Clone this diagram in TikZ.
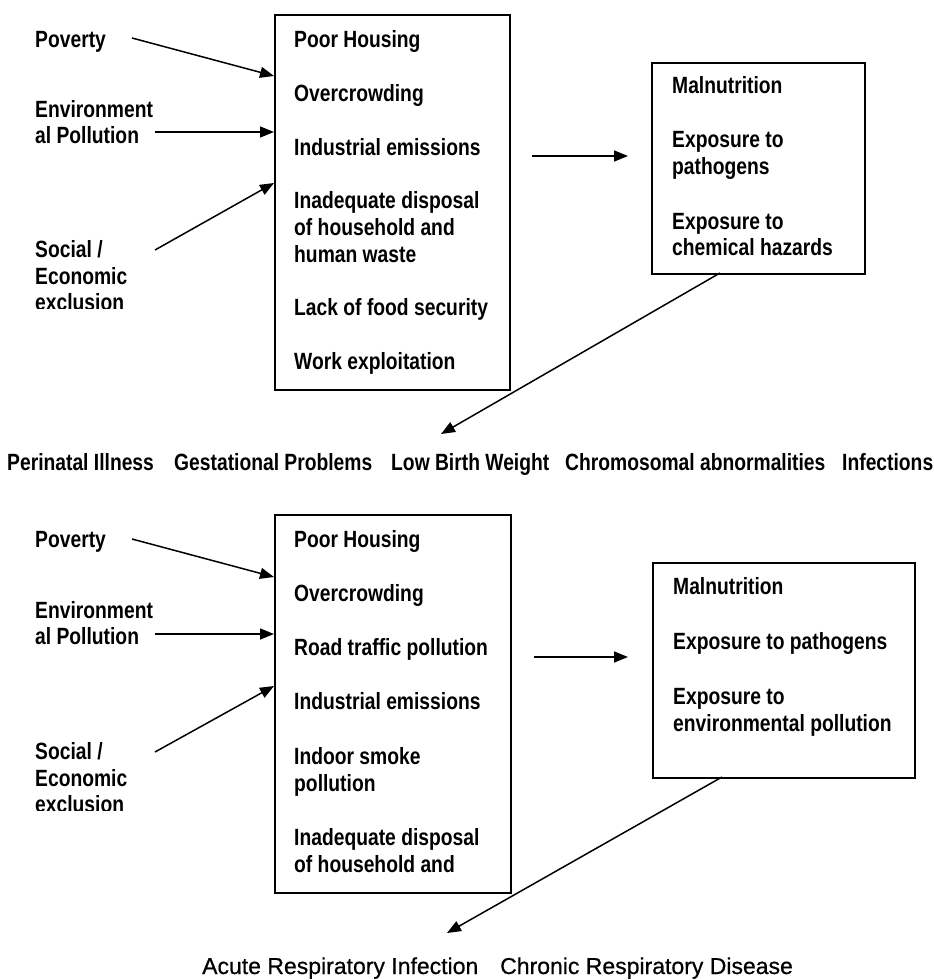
\documentclass[tikz,border=0pt]{standalone}
\usepackage{fontspec}
\setmainfont{Liberation Sans}[FakeStretch=0.82]
\newfontfamily\regfont{Liberation Sans}[FakeBold=0.6]
\usetikzlibrary{arrows.meta}
\begin{document}
\begin{tikzpicture}[x=1pt,y=-1pt,
  lbl/.style={anchor=base west, inner sep=0pt, font=\fontsize{23.5}{27}\selectfont\bfseries},
  big/.style={anchor=base west, inner sep=0pt, font=\fontsize{23}{27}\selectfont\regfont},
  boxx/.style={draw, line width=1.8pt, anchor=north west, inner sep=0pt},
  arr/.style={line width=1.5pt, -{Triangle[length=14pt,width=11pt]}}]
\useasboundingbox (0,0) rectangle (934,980);
\fill[white] (0,0) rectangle (934,980);
% ---------- section 1 ----------
\node[boxx, minimum width=235pt, minimum height=375pt] (A) at (274,14) {};
\node[boxx, minimum width=213pt, minimum height=211pt] (B) at (651,62) {};
\node[lbl] (a1) at (294,47) {Poor Housing};
\node[lbl] (a2) at (294,101) {Overcrowding};
\node[lbl] (a3) at (294,155) {Industrial emissions};
\node[lbl] (a4) at (294,208) {Inadequate disposal};
\node[lbl] (a4b) at (294,235) {of household and};
\node[lbl] (a4c) at (294,262) {human waste};
\node[lbl] (a5) at (294,315) {Lack of food security};
\node[lbl] (a6) at (294,369) {Work exploitation};
\node[lbl] (l1) at (35,47) {Poverty};
\node[lbl] (l2) at (35,117) {Environment};
\node[lbl] (l2b) at (35,143) {al Pollution};
\node[lbl] (l3) at (35,257) {Social /};
\node[lbl] (l3b) at (35,284) {Economic};
\begin{scope}
\clip (0,286) rectangle (200,308);
\node[lbl] (l3c) at (35,310) {exclusion};
\end{scope}
\node[lbl] (b1) at (672,93) {Malnutrition};
\node[lbl] (b2) at (672,147) {Exposure to};
\node[lbl] (b2b) at (672,174) {pathogens};
\node[lbl] (b3) at (672,229) {Exposure to};
\node[lbl] (b3b) at (672,255) {chemical hazards};
\node[lbl] (o1) at (7,470) {Perinatal Illness};
\node[lbl] (o2) at (174,470) {Gestational Problems};
\node[lbl] (o3) at (391,470) {Low Birth Weight};
\node[lbl] (o4) at (565,470) {Chromosomal abnormalities};
\node[lbl] (o5) at (842,470) {Infections};
\coordinate (s1) at (132,38);  \coordinate (e1) at (274,76);
\coordinate (s2) at (155,132); \coordinate (e2) at (274,132);
\coordinate (s3) at (155,250); \coordinate (e3) at (274,183);
\coordinate (s4) at (532,156); \coordinate (e4) at (628,156);
\coordinate (s5) at (720,273); \coordinate (e5) at (441,434);
\draw[arr] (s1) -- (e1);
\draw[arr] (s2) -- (e2);
\draw[arr] (s3) -- (e3);
\draw[arr] (s4) -- (e4);
\draw[arr] (s5) -- (e5);
% ---------- section 2 ----------
\node[boxx, minimum width=236pt, minimum height=378pt] (C) at (274,514) {};
\node[boxx, minimum width=262pt, minimum height=215pt] (D) at (652,562) {};
\node[lbl] (c1) at (294,547) {Poor Housing};
\node[lbl] (c2) at (294,601) {Overcrowding};
\node[lbl] (c3) at (294,655) {Road traffic pollution};
\node[lbl] (c4) at (294,709) {Industrial emissions};
\node[lbl] (c5) at (294,764) {Indoor smoke};
\node[lbl] (c5b) at (294,791) {pollution};
\node[lbl] (c6) at (294,845) {Inadequate disposal};
\node[lbl] (c6b) at (294,872) {of household and};
\node[lbl] (m1) at (35,547) {Poverty};
\node[lbl] (m2) at (35,618) {Environment};
\node[lbl] (m2b) at (35,644) {al Pollution};
\node[lbl] (m3) at (35,759) {Social /};
\node[lbl] (m3b) at (35,786) {Economic};
\begin{scope}
\clip (0,792) rectangle (200,810);
\node[lbl] (m3c) at (35,812) {exclusion};
\end{scope}
\node[lbl] (d1) at (673,594) {Malnutrition};
\node[lbl] (d2) at (673,649) {Exposure to pathogens};
\node[lbl] (d3) at (673,704) {Exposure to};
\node[lbl] (d3b) at (673,731) {environmental pollution};
\node[big] (r1) at (202,974) {Acute Respiratory Infection};
\node[big] (r2) at (500,974) {Chronic Respiratory Disease};
\coordinate (t1) at (132,539); \coordinate (f1) at (274,577);
\coordinate (t2) at (155,634); \coordinate (f2) at (274,634);
\coordinate (t3) at (155,752); \coordinate (f3) at (274,686);
\coordinate (t4) at (534,657); \coordinate (f4) at (628,657);
\coordinate (t5) at (722,777); \coordinate (f5) at (447,933);
\draw[arr] (t1) -- (f1);
\draw[arr] (t2) -- (f2);
\draw[arr] (t3) -- (f3);
\draw[arr] (t4) -- (f4);
\draw[arr] (t5) -- (f5);
\end{tikzpicture}
\end{document}
